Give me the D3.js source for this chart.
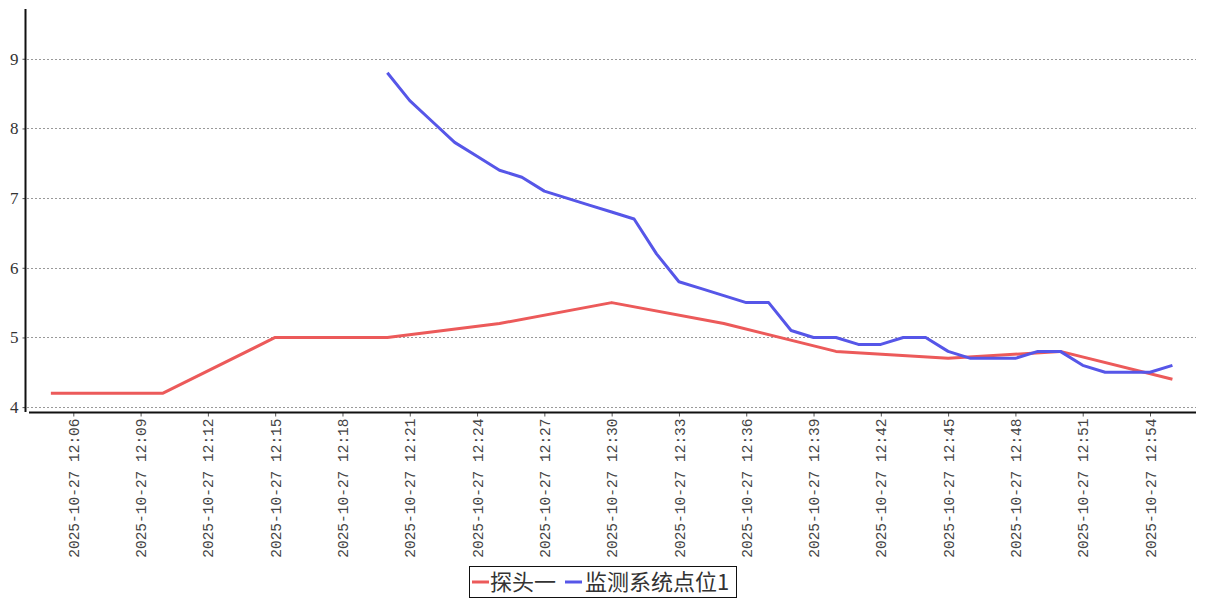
<!DOCTYPE html>
<html>
<head>
<meta charset="utf-8">
<script src="https://cdn.jsdelivr.net/npm/d3@7"></script>
<style>
  html, body { margin: 0; padding: 0; background: #fff; }
  svg { display: block; }
</style>
</head>
<body>
<svg id="chart" width="1207" height="600"></svg>
<script>
// ---- data ----
const seriesNames = ["探头一", "监测系统点位1"];
const seriesColors = ["#ec5a5a", "#5656e8"];

const probeTimes = ["12:05","12:10","12:15","12:20","12:25","12:30","12:35","12:40","12:45","12:50","12:55"];
const probeValues = [4.2, 4.2, 5.0, 5.0, 5.2, 5.5, 5.2, 4.8, 4.7, 4.8, 4.4];

const monitorTimes = ["12:20","12:21","12:22","12:23","12:24","12:25","12:26","12:27","12:28","12:29",
  "12:30","12:31","12:32","12:33","12:34","12:35","12:36","12:37","12:38","12:39",
  "12:40","12:41","12:42","12:43","12:44","12:45","12:46","12:47","12:48","12:49",
  "12:50","12:51","12:52","12:53","12:54","12:55"];
const monitorValues = [8.8, 8.4, 8.1, 7.8, 7.6, 7.4, 7.3, 7.1, 7.0, 6.9,
  6.8, 6.7, 6.2, 5.8, 5.7, 5.6, 5.5, 5.5, 5.1, 5.0,
  5.0, 4.9, 4.9, 5.0, 5.0, 4.8, 4.7, 4.7, 4.7, 4.8,
  4.8, 4.6, 4.5, 4.5, 4.5, 4.6];

const xTickLabels = ["12:06","12:09","12:12","12:15","12:18","12:21","12:24","12:27","12:30",
  "12:33","12:36","12:39","12:42","12:45","12:48","12:51","12:54"];
const yTickValues = [4, 5, 6, 7, 8, 9];
const datePrefix = "2025-10-27";

// ---- helpers ----
const parse = d3.timeParse("%Y-%m-%d %H:%M");
const t = s => parse(datePrefix + " " + s);

const svg = d3.select("#chart");

const x = d3.scaleTime()
  .domain([t("12:06"), t("12:54")])
  .range([73.3, 1150]);
const y = d3.scaleLinear()
  .domain([3.93, 9.7])
  .range([412, 10]);

const xLeft = 29, xRight = 1196;

// gridlines
svg.append("g")
  .selectAll("line")
  .data(yTickValues)
  .join("line")
  .attr("x1", 27).attr("x2", 1196)
  .attr("y1", d => Math.round(y(d)) + 0.5)
  .attr("y2", d => Math.round(y(d)) + 0.5)
  .attr("stroke", "#999")
  .attr("stroke-width", 1)
  .attr("stroke-dasharray", "2,2");

// y axis
const yAxis = d3.axisLeft(y).tickValues(yTickValues).tickFormat(d3.format("d")).tickSize(3).tickPadding(4);
const gy = svg.append("g").attr("transform", "translate(25.5,0)").call(yAxis);
gy.select(".domain").remove();
gy.append("line").attr("x1", 0).attr("x2", 0).attr("y1", 9).attr("y2", 412)
  .attr("stroke", "#111").attr("stroke-width", 2);
gy.selectAll(".tick line").attr("stroke", "#555");
gy.selectAll(".tick text")
  .attr("fill", "#333")
  .style("font-family", "'Liberation Serif', 'DejaVu Serif', serif")
  .style("font-size", "17px");

// x axis
const xAxis = d3.axisBottom(x)
  .tickValues(xTickLabels.map(t))
  .tickFormat(d3.timeFormat("%Y-%m-%d %H:%M"))
  .tickSize(4)
  .tickPadding(6);
const gx = svg.append("g").attr("transform", "translate(0,412.5)").call(xAxis);
gx.select(".domain").remove();
gx.append("line").attr("x1", xLeft).attr("x2", xRight).attr("y1", 0).attr("y2", 0)
  .attr("stroke", "#111").attr("stroke-width", 2);
gx.selectAll(".tick line").attr("stroke", "#555");
gx.selectAll(".tick text")
  .attr("fill", "#444")
  .style("font-family", "'Liberation Mono', 'DejaVu Sans Mono', monospace")
  .style("font-size", "14.5px")
  .attr("text-anchor", "end")
  .attr("transform", "rotate(-90)")
  .attr("x", -6)
  .attr("y", 0)
  .attr("dy", "0.35em");

// lines
const line = d3.line().x(d => x(d[0])).y(d => y(d[1]));
const probeData = probeTimes.map((s, i) => [t(s), probeValues[i]]);
const monitorData = monitorTimes.map((s, i) => [t(s), monitorValues[i]]);

svg.append("path").datum(probeData)
  .attr("d", line).attr("fill", "none")
  .attr("stroke", seriesColors[0]).attr("stroke-width", 3)
  .attr("stroke-linejoin", "round");
svg.append("path").datum(monitorData)
  .attr("d", line).attr("fill", "none")
  .attr("stroke", seriesColors[1]).attr("stroke-width", 3)
  .attr("stroke-linejoin", "round");

// legend
const lg = svg.append("g");
lg.append("rect").attr("x", 469.5).attr("y", 566.5).attr("width", 267).attr("height", 31)
  .attr("fill", "#fff").attr("stroke", "#111").attr("stroke-width", 1);
const items = [
  { name: seriesNames[0], color: seriesColors[0], x0: 472, tx: 490 },
  { name: seriesNames[1], color: seriesColors[1], x0: 565, tx: 585 }
];
items.forEach(it => {
  lg.append("line").attr("x1", it.x0).attr("x2", it.x0 + 17).attr("y1", 582).attr("y2", 582)
    .attr("stroke", it.color).attr("stroke-width", 3);
  lg.append("text").attr("x", it.tx).attr("y", 590)
    .attr("fill", "#333")
    .style("font-family", "'Noto Sans CJK SC', sans-serif")
    .style("font-size", "22px")
    .text(it.name);
});
</script>
</body>
</html>
